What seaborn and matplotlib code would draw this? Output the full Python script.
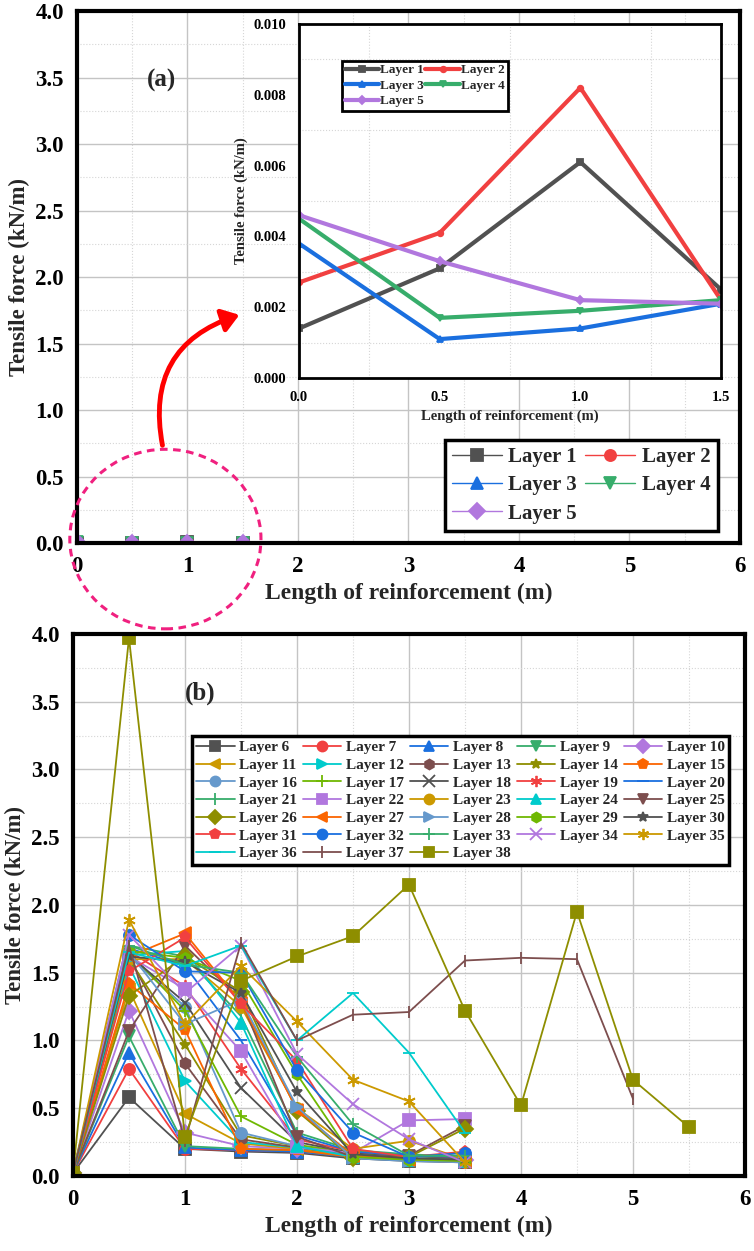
import matplotlib
matplotlib.use("Agg")
import matplotlib.pyplot as plt
from matplotlib.patches import Ellipse, FancyArrowPatch
from matplotlib.ticker import MultipleLocator
import numpy as np
import pandas as pd
import seaborn as sns

sns.set_style("white")
plt.rcParams['font.family'] = ['Liberation Serif', 'DejaVu Serif']
plt.rcParams['font.weight'] = 'bold'
plt.rcParams['axes.labelweight'] = 'bold'

# Origin "Bright" palette, cycled per layer
palette = ["#515151", "#F14040", "#1A6FDF", "#37AD6B", "#B177DE", "#CC9900",
           "#00CBCC", "#7D4E4E", "#8E8E00", "#FB6501", "#6699CC", "#6FB802"]
markers = ["s", "o", "^", "v", "D", "<", ">", "h", "*", "p", "o", "+", "x", (6, 2, 0), "_", "|"]

# ---- panel (a): layers 1-5
a_x = [0.0, 0.5, 1.0, 1.5]
layer1 = [0.0014, 0.0031, 0.0061, 0.0025]
layer2 = [0.0027, 0.0041, 0.0082, 0.0022]
layer3 = [0.0038, 0.0011, 0.0014, 0.0021]
layer4 = [0.0045, 0.0017, 0.0019, 0.0022]
layer5 = [0.0046, 0.0033, 0.0022, 0.0021]
a_layers = [layer1, layer2, layer3, layer4, layer5]

# ---- panel (b): layers 6-38
b_x = [0.0, 0.5, 1.0, 1.5, 2.0, 2.5, 3.0, 3.5]
b_x37 = [0.0, 0.5, 1.0, 1.5, 2.0, 2.5, 3.0, 3.5, 4.0, 4.5, 5.0]
b_x38 = [0.0, 0.5, 1.0, 1.5, 2.0, 2.5, 3.0, 3.5, 4.0, 4.5, 5.0, 5.5]
layer6 = [0.02, 0.58, 0.20, 0.18, 0.17, 0.13, 0.11, 0.10]
layer7 = [0.02, 0.79, 0.20, 0.19, 0.18, 0.14, 0.12, 0.10]
layer8 = [0.02, 0.91, 0.21, 0.19, 0.18, 0.14, 0.12, 0.11]
layer9 = [0.02, 1.03, 0.22, 0.20, 0.19, 0.14, 0.13, 0.11]
layer10 = [0.02, 1.22, 0.32, 0.22, 0.20, 0.15, 0.13, 0.12]
layer11 = [0.02, 1.38, 0.46, 0.24, 0.20, 0.15, 0.13, 0.12]
layer12 = [0.02, 1.55, 0.70, 0.25, 0.21, 0.16, 0.14, 0.12]
layer13 = [0.02, 1.62, 0.83, 0.27, 0.21, 0.16, 0.14, 0.13]
layer14 = [0.02, 1.60, 0.97, 0.30, 0.22, 0.16, 0.14, 0.13]
layer15 = [0.02, 1.42, 1.08, 0.20, 0.19, 0.14, 0.12, 0.10]
layer16 = [0.02, 1.62, 1.25, 0.32, 0.22, 0.16, 0.14, 0.13]
layer17 = [0.02, 1.65, 1.22, 0.44, 0.23, 0.17, 0.15, 0.13]
layer18 = [0.02, 1.63, 1.28, 0.65, 0.25, 0.17, 0.15, 0.13]
layer19 = [0.02, 1.66, 1.40, 0.79, 0.27, 0.18, 0.15, 0.14]
layer20 = [0.02, 1.68, 1.55, 1.00, 0.30, 0.18, 0.15, 0.14]
layer21 = [0.02, 1.70, 1.62, 1.18, 0.32, 0.19, 0.16, 0.14]
layer22 = [0.02, 1.62, 1.38, 0.92, 0.21, 0.17, 0.41, 0.42]
layer23 = [0.02, 1.60, 1.60, 1.25, 0.50, 0.20, 0.26, 0.12]
layer24 = [0.02, 1.63, 1.66, 1.13, 0.22, 0.14, 0.12, 0.11]
layer25 = [0.02, 1.07, 1.70, 1.30, 0.29, 0.14, 0.15, 0.37]
layer26 = [0.02, 1.33, 1.62, 1.36, 0.48, 0.13, 0.14, 0.35]
layer27 = [0.02, 1.62, 1.79, 1.28, 0.49, 0.15, 0.12, 0.10]
layer28 = [0.02, 1.65, 1.12, 1.30, 0.51, 0.13, 0.11, 0.10]
layer29 = [0.02, 1.66, 1.61, 1.44, 0.75, 0.14, 0.12, 0.11]
layer30 = [0.02, 1.62, 1.58, 1.35, 0.62, 0.16, 0.13, 0.12]
layer31 = [0.02, 1.51, 1.76, 1.27, 0.85, 0.20, 0.14, 0.18]
layer32 = [0.02, 1.78, 1.51, 1.50, 0.78, 0.32, 0.14, 0.17]
layer33 = [0.02, 1.70, 1.56, 1.50, 0.88, 0.38, 0.15, 0.15]
layer34 = [0.02, 1.78, 1.35, 1.70, 0.90, 0.53, 0.27, 0.10]
layer35 = [0.02, 1.89, 1.12, 1.55, 1.14, 0.71, 0.55, 0.10]
layer36 = [0.02, 1.65, 1.55, 1.70, 1.00, 1.35, 0.91, 0.32]
layer37 = [0.02, 1.70, 0.26, 1.72, 1.00, 1.19, 1.21, 1.59, 1.61, 1.60, 0.57]
layer38 = [0.02, 3.97, 0.29, 1.44, 1.62, 1.77, 2.15, 1.22, 0.52, 1.95, 0.71, 0.36]
b_layers = [layer6, layer7, layer8, layer9, layer10, layer11, layer12, layer13,
            layer14, layer15, layer16, layer17, layer18, layer19, layer20, layer21,
            layer22, layer23, layer24, layer25, layer26, layer27, layer28, layer29,
            layer30, layer31, layer32, layer33, layer34, layer35, layer36, layer37,
            layer38]

fig = plt.figure(figsize=(7.54, 12.51), dpi=100)
ax_a = fig.add_axes([0.1021, 0.5659, 0.8793, 0.4253])
ax_b = fig.add_axes([0.0968, 0.0600, 0.8912, 0.4332])
ax_in = fig.add_axes([0.3966, 0.6978, 0.5597, 0.2830])


def style_axes(ax, spine_w, tick_fs):
    for s in ax.spines.values():
        s.set_linewidth(spine_w)
        s.set_color("black")
    ax.tick_params(which="major", direction="out", length=6, width=spine_w * 0.8,
                   labelsize=tick_fs, colors="black")
    ax.tick_params(which="minor", direction="out", length=3.5, width=spine_w * 0.7)
    ax.grid(which="major", color="#c4c4c4", lw=1.0)
    ax.grid(which="minor", color="#d6d6d6", lw=0.8, ls=":")
    ax.set_axisbelow(True)
    for lab in ax.get_xticklabels() + ax.get_yticklabels():
        lab.set_fontweight("bold")


def draw_layer(ax, xs, ys, i, lab, lw, ms):
    c = palette[i % 12]
    m = markers[i % 16]
    sns.lineplot(x=xs, y=ys, ax=ax, color=c, marker=m, markersize=ms,
                 markeredgecolor=c, markeredgewidth=1.3, linewidth=lw, label=lab)


def row_major(ax, ncol):
    # matplotlib fills legends column by column; reorder so rows read left to right
    h, l = ax.get_legend_handles_labels()
    n = len(h)
    order = [r * ncol + c for c in range(ncol) for r in range(-(-n // ncol)) if r * ncol + c < n]
    return [h[i] for i in order], [l[i] for i in order]


def make_legend(ax, ncol, lw, **kw):
    h, l = row_major(ax, ncol)
    leg = ax.legend(h, l, ncol=ncol, frameon=True, fancybox=False, framealpha=1,
                    edgecolor="black", **kw)
    leg.get_frame().set_linewidth(lw)
    for t in leg.get_texts():
        t.set_fontweight("bold")
    return leg


# ---- panel (a)
for i, ys in enumerate(a_layers):
    draw_layer(ax_a, a_x, ys, i, f"Layer {i + 1}", 1.0, 8)
ax_a.set_xlim(0, 6)
ax_a.set_ylim(0, 4.0)
ax_a.xaxis.set_major_locator(MultipleLocator(1))
ax_a.xaxis.set_minor_locator(MultipleLocator(0.5))
ax_a.yaxis.set_major_locator(MultipleLocator(0.5))
ax_a.yaxis.set_minor_locator(MultipleLocator(0.25))
ax_a.set_xticklabels([f"{v:g}" for v in ax_a.get_xticks()])
ax_a.set_yticklabels([f"{v:.1f}" for v in ax_a.get_yticks()])
style_axes(ax_a, 3, 16.5)
ax_a.set_xlabel("Length of reinforcement (m)", fontsize=17, fontweight="bold")
ax_a.set_ylabel("Tensile force (kN/m)", fontsize=16.5, fontweight="bold")
ax_a.text(0.63, 3.48, "(a)", fontsize=18, fontweight="bold", va="center")
make_legend(ax_a, 2, 2.5, loc="lower right", bbox_to_anchor=(0.982, 0.003),
            fontsize=15, handlelength=2.4, handletextpad=0.3,
            columnspacing=0.4, labelspacing=0.4, borderpad=0.35)

ell = Ellipse((0.80, 0.03), 1.73, 1.35, fill=False, edgecolor="#F0207F",
              lw=2.2, ls=(0, (2.5, 1.8)), clip_on=False, zorder=5)
ax_a.add_patch(ell)

# ---- inset
for i, ys in enumerate(a_layers):
    draw_layer(ax_in, a_x, ys, i, f"Layer {i + 1}", 3.0, 4)
ax_in.set_xlim(0, 1.5)
ax_in.set_ylim(0, 0.010)
ax_in.xaxis.set_major_locator(MultipleLocator(0.5))
ax_in.xaxis.set_minor_locator(MultipleLocator(0.25))
ax_in.yaxis.set_major_locator(MultipleLocator(0.002))
ax_in.yaxis.set_minor_locator(MultipleLocator(0.001))
ax_in.set_xticklabels([f"{v:.1f}" for v in ax_in.get_xticks()])
ax_in.set_yticklabels([f"{v:.3f}" for v in ax_in.get_yticks()])
ax_in.set_facecolor("white")
style_axes(ax_in, 2, 10.5)
ax_in.grid(False)
ax_in.set_xlabel("Length of reinforcement (m)", fontsize=10.5, fontweight="bold")
ax_in.set_ylabel("Tensile force (kN/m)", fontsize=10.5, fontweight="bold")
make_legend(ax_in, 2, 2, loc="upper left", bbox_to_anchor=(0.085, 0.915),
            fontsize=9.5, handlelength=2.6, handletextpad=0.1,
            columnspacing=0.1, labelspacing=0.25, borderpad=0.25)

# red curved arrow from the ellipse to the inset (figure pixel coords)
arrow = FancyArrowPatch((163 / 754, 1 - 448 / 1251), (242 / 754, 1 - 314 / 1251),
                        transform=fig.transFigure, connectionstyle="arc3,rad=-0.45",
                        arrowstyle="-|>,head_length=10,head_width=7",
                        color="#FF0000", lw=3.5, zorder=6)
fig.patches.append(arrow)

# ---- panel (b)
for k, ys in enumerate(b_layers):
    n = k + 6
    if n == 37:
        xs = b_x37
    elif n == 38:
        xs = b_x38
    else:
        xs = b_x
    ms = 9 if markers[k % 16] in ["+", "x", (6, 2, 0), "_", "|"] else 8
    draw_layer(ax_b, xs, ys, k, f"Layer {n}", 1.3, ms)
ax_b.set_xlim(0, 6)
ax_b.set_ylim(0, 4.0)
ax_b.xaxis.set_major_locator(MultipleLocator(1))
ax_b.xaxis.set_minor_locator(MultipleLocator(0.5))
ax_b.yaxis.set_major_locator(MultipleLocator(0.5))
ax_b.yaxis.set_minor_locator(MultipleLocator(0.25))
ax_b.set_xticklabels([f"{v:g}" for v in ax_b.get_xticks()])
ax_b.set_yticklabels([f"{v:.1f}" for v in ax_b.get_yticks()])
style_axes(ax_b, 3, 16.5)
ax_b.set_xlabel("Length of reinforcement (m)", fontsize=17, fontweight="bold")
ax_b.set_ylabel("Tensile force (kN/m)", fontsize=16.5, fontweight="bold")
ax_b.text(1.0, 3.56, "(b)", fontsize=18, fontweight="bold", va="center")
make_legend(ax_b, 5, 2.5, loc="upper right", bbox_to_anchor=(0.988, 0.826),
            fontsize=11, handlelength=2.5, handletextpad=0.3,
            columnspacing=0.4, labelspacing=0.26, borderpad=0.3, markerscale=0.9)

fig.savefig("out.png", dpi=100)
